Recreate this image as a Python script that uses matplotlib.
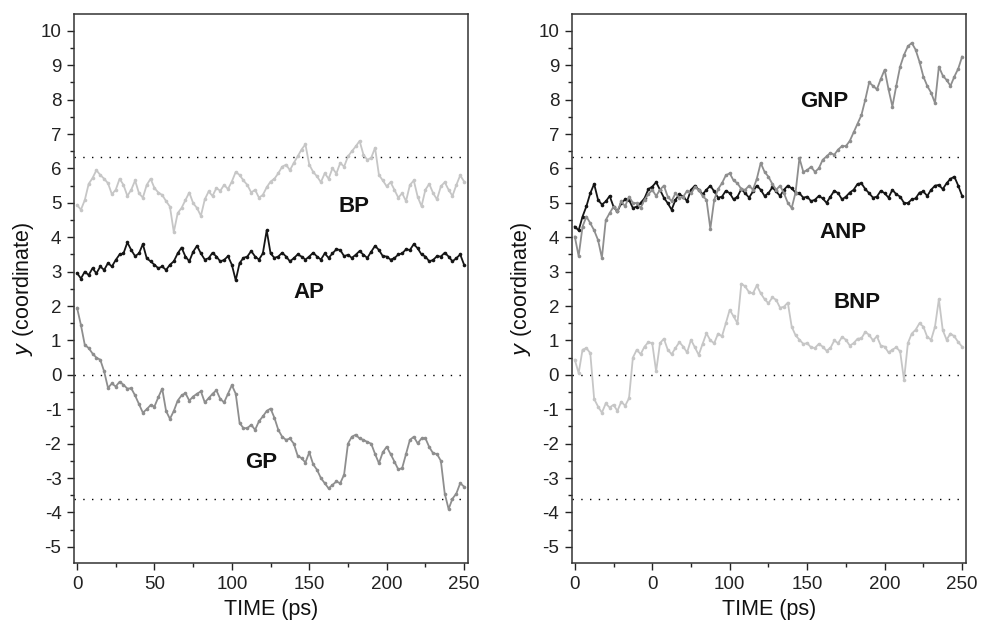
import numpy as np
import matplotlib
matplotlib.use('Agg')
import matplotlib.pyplot as plt
from matplotlib.ticker import MultipleLocator

plt.rcParams['font.family'] = ['Liberation Sans', 'DejaVu Sans']
plt.rcParams['axes.unicode_minus'] = False

# time grid (ps), one reading every 2.5 ps
time = np.linspace(0, 250, 101)

# left panel
bp = [4.94, 4.80, 5.08, 5.55, 5.72, 5.95, 5.81, 5.70, 5.57, 5.25,
      5.38, 5.70, 5.52, 5.20, 5.38, 5.65, 5.28, 5.15, 5.52, 5.70,
      5.43, 5.30, 5.23, 5.05, 4.89, 4.15, 4.70, 4.85, 5.08, 5.30,
      4.99, 4.85, 4.62, 5.10, 5.33, 5.20, 5.43, 5.35, 5.52, 5.40,
      5.62, 5.90, 5.81, 5.65, 5.52, 5.30, 5.38, 5.15, 5.23, 5.45,
      5.62, 5.70, 5.86, 6.05, 6.11, 5.95, 6.16, 6.35, 6.55, 6.70,
      6.11, 5.90, 5.77, 5.60, 5.86, 5.70, 6.01, 5.85, 6.16, 6.05,
      6.35, 6.50, 6.64, 6.80, 6.40, 6.25, 6.31, 6.60, 5.81, 5.65,
      5.48, 5.60, 5.38, 5.15, 5.28, 5.05, 5.52, 5.65, 5.18, 4.90,
      5.38, 5.55, 5.28, 5.10, 5.48, 5.60, 5.38, 5.20, 5.52, 5.80,
      5.62]
ap = [2.96, 2.80, 3.00, 2.90, 3.10, 2.95, 3.15, 3.05, 3.25, 3.15,
      3.34, 3.50, 3.53, 3.85, 3.63, 3.45, 3.53, 3.80, 3.39, 3.30,
      3.20, 3.10, 3.15, 3.05, 3.20, 3.30, 3.53, 3.70, 3.44, 3.30,
      3.58, 3.75, 3.53, 3.35, 3.39, 3.55, 3.44, 3.30, 3.34, 3.45,
      3.20, 2.75, 3.25, 3.40, 3.44, 3.60, 3.44, 3.35, 3.53, 4.20,
      3.53, 3.40, 3.44, 3.55, 3.44, 3.30, 3.39, 3.50, 3.44, 3.35,
      3.44, 3.55, 3.44, 3.35, 3.53, 3.40, 3.53, 3.65, 3.63, 3.45,
      3.49, 3.40, 3.49, 3.60, 3.49, 3.40, 3.58, 3.75, 3.63, 3.45,
      3.44, 3.35, 3.39, 3.50, 3.53, 3.65, 3.63, 3.80, 3.68, 3.50,
      3.44, 3.30, 3.34, 3.45, 3.44, 3.55, 3.44, 3.30, 3.39, 3.50,
      3.20]
gp = [1.95, 1.45, 0.87, 0.78, 0.62, 0.50, 0.44, 0.10, -0.38, -0.25,
      -0.34, -0.20, -0.29, -0.40, -0.39, -0.60, -0.85, -1.10, -1.00, -0.88,
      -0.92, -0.65, -0.40, -1.05, -1.28, -1.05, -0.75, -0.60, -0.53, -0.75,
      -0.63, -0.55, -0.48, -0.80, -0.68, -0.55, -0.45, -0.70, -0.80, -0.55,
      -0.30, -0.55, -1.40, -1.55, -1.55, -1.45, -1.60, -1.35, -1.21, -1.05,
      -0.98, -1.25, -1.60, -1.80, -1.89, -1.85, -2.00, -2.35, -2.42, -2.55,
      -2.25, -2.60, -2.76, -3.00, -3.15, -3.30, -3.20, -3.10, -3.15, -2.90,
      -2.00, -1.80, -1.74, -1.85, -1.89, -1.95, -2.00, -2.30, -2.57, -2.25,
      -2.09, -2.30, -2.52, -2.75, -2.71, -2.30, -1.89, -1.80, -1.99, -1.85,
      -1.84, -2.10, -2.28, -2.30, -2.50, -3.45, -3.90, -3.60, -3.45, -3.15,
      -3.25]

# right panel
anp = [4.31, 4.20, 4.60, 4.90, 5.28, 5.55, 5.09, 4.95, 5.04, 5.20,
       4.89, 4.75, 4.99, 5.10, 5.09, 4.85, 4.89, 5.00, 5.13, 5.40,
       5.47, 5.60, 5.38, 5.15, 4.99, 4.80, 5.09, 5.25, 5.18, 5.05,
       5.38, 5.50, 5.38, 5.25, 5.38, 5.50, 5.33, 5.15, 5.18, 5.35,
       5.28, 5.10, 5.18, 5.40, 5.28, 5.15, 5.33, 5.50, 5.38, 5.20,
       5.28, 5.45, 5.33, 5.20, 5.38, 5.50, 5.42, 5.30, 5.28, 5.15,
       5.18, 5.05, 5.09, 5.20, 5.13, 5.00, 5.18, 5.35, 5.28, 5.10,
       5.18, 5.30, 5.38, 5.55, 5.57, 5.40, 5.28, 5.15, 5.18, 5.35,
       5.28, 5.15, 5.38, 5.25, 5.18, 5.00, 4.99, 5.10, 5.13, 5.30,
       5.33, 5.20, 5.38, 5.50, 5.52, 5.40, 5.57, 5.70, 5.76, 5.50,
       5.20]
gnp = [4.02, 3.45, 4.31, 4.60, 4.41, 4.20, 3.92, 3.40, 4.50, 4.70,
       4.89, 4.75, 5.04, 4.90, 5.18, 5.00, 4.99, 4.85, 5.09, 5.25,
       5.38, 5.20, 5.38, 5.50, 5.18, 5.05, 5.28, 5.15, 5.18, 5.35,
       5.28, 5.45, 5.38, 5.20, 5.09, 4.25, 5.09, 5.40, 5.57, 5.80,
       5.86, 5.65, 5.57, 5.40, 5.38, 5.50, 5.38, 5.70, 6.16, 5.90,
       5.76, 5.55, 5.38, 5.50, 5.28, 5.00, 4.85, 5.30, 6.30, 5.90,
       5.95, 6.05, 5.90, 6.00, 6.25, 6.35, 6.45, 6.40, 6.55, 6.65,
       6.65, 6.80, 7.05, 7.30, 7.55, 8.00, 8.50, 8.40, 8.30, 8.60,
       8.87, 8.30, 7.80, 8.40, 8.96, 9.30, 9.55, 9.65, 9.45, 9.10,
       8.67, 8.40, 8.20, 7.90, 8.96, 8.70, 8.57, 8.40, 8.67, 8.90,
       9.25]
bnp = [0.44, 0.05, 0.73, 0.78, 0.63, -0.70, -0.92, -1.10, -0.83, -0.95,
       -0.87, -1.05, -0.78, -0.90, -0.68, 0.50, 0.73, 0.60, 0.82, 0.95,
       0.92, 0.10, 0.92, 1.05, 0.73, 0.60, 0.78, 0.95, 0.82, 0.65,
       1.02, 0.80, 0.58, 0.90, 1.21, 1.00, 0.92, 1.20, 1.12, 1.50,
       1.89, 1.70, 1.50, 2.65, 2.57, 2.40, 2.37, 2.60, 2.37, 2.20,
       2.08, 2.25, 2.18, 1.95, 1.98, 2.10, 1.40, 1.15, 1.02, 0.90,
       0.92, 0.80, 0.78, 0.90, 0.82, 0.70, 0.78, 1.00, 0.92, 1.10,
       1.02, 0.85, 0.92, 1.05, 1.06, 1.25, 1.16, 1.00, 1.12, 0.85,
       0.82, 0.65, 0.73, 0.80, 0.68, -0.15, 0.92, 1.20, 1.31, 1.50,
       1.40, 1.10, 1.02, 1.40, 2.20, 1.30, 1.02, 1.20, 1.12, 0.95,
       0.82]

ref_levels = [6.33, 0.0, -3.6]
x_ticks = [0, 50, 100, 150, 200, 250]
left_xlabels = ['0', '50', '100', '150', '200', '250']
right_xlabels = ['0', '0', '100', '150', '200', '250']

BLACK = '#151515'
MID = '#8e8e8e'
LIGHT = '#c6c6c6'

fig = plt.figure(figsize=(9.86, 6.30), dpi=100)
ax1 = fig.add_axes([0.075, 0.1063, 0.3996, 0.8715])
ax2 = fig.add_axes([0.5798, 0.1063, 0.3999, 0.8715])


def trace(ax, y, color, z):
    ax.plot(time, y, color=color, lw=1.3, marker='o', ms=2.6, mew=0,
            zorder=z)


trace(ax1, bp, LIGHT, 2)
trace(ax1, gp, MID, 2)
trace(ax1, ap, BLACK, 3)

trace(ax2, bnp, LIGHT, 2)
trace(ax2, anp, BLACK, 3)
trace(ax2, gnp, MID, 4)

labels_left = [('BP', 179, 4.89), ('AP', 150, 2.39), ('GP', 119, -2.56)]
labels_right = [('GNP', 161, 7.95), ('ANP', 173, 4.13), ('BNP', 182, 2.09)]

for ax, labs, xl in [(ax1, labels_left, left_xlabels),
                     (ax2, labels_right, right_xlabels)]:
    for lv in ref_levels:
        ax.axhline(lv, color='black', lw=1.0, ls=(0, (1, 5.3)), zorder=1)
    for txt, x, y in labs:
        ax.text(x, y, txt, fontsize=16, fontweight='bold', ha='center',
                va='center', color='#111111')
    ax.set_xlim(-2, 252.5)
    ax.set_ylim(-5.47, 10.49)
    ax.set_xticks(x_ticks)
    ax.set_xticklabels(xl)
    ax.xaxis.set_minor_locator(MultipleLocator(25))
    ax.set_yticks(range(-5, 11))
    ax.yaxis.set_minor_locator(MultipleLocator(0.5))
    ax.tick_params(which='major', direction='out', length=5, width=1,
                   labelsize=13.5, colors='#222222', pad=4)
    ax.tick_params(which='minor', direction='out', length=3, width=1,
                   colors='#222222')
    ax.tick_params(top=False, right=False, which='both')
    for s in ax.spines.values():
        s.set_linewidth(1.1)
        s.set_color('#333333')
    ax.set_xlabel('TIME (ps)', fontsize=15.5, color='#111111', labelpad=5)
    ax.set_ylabel('$\\mathit{y}$ (coordinate)', fontsize=15.5,
                  color='#111111', labelpad=3)

plt.savefig('out.png', dpi=100)
